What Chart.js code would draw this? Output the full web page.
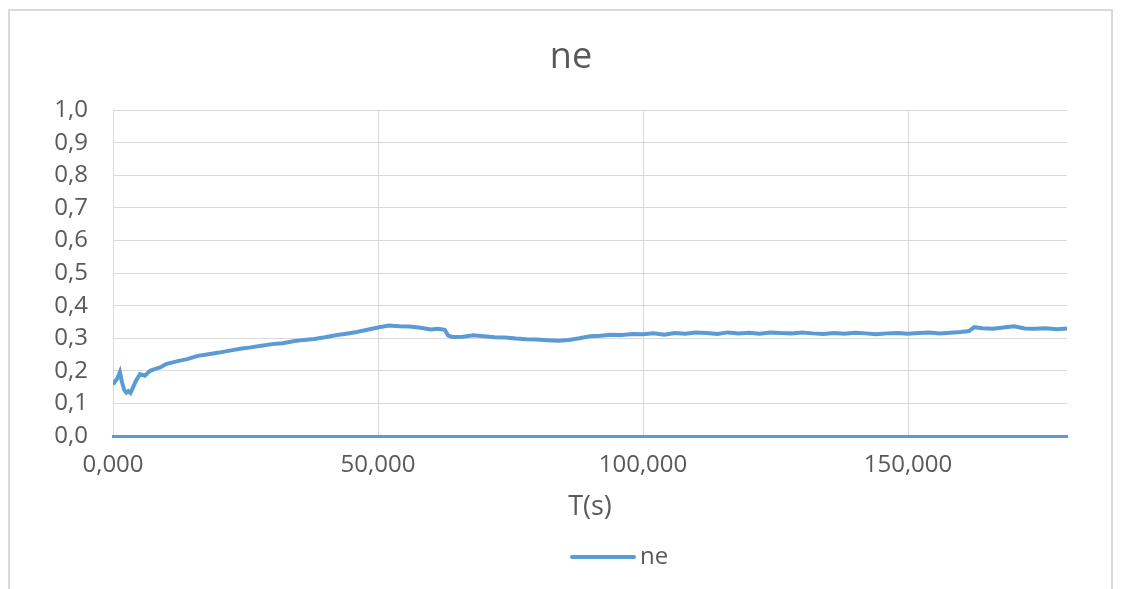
<!DOCTYPE html>
<html>
<head>
<meta charset="utf-8">
<title>ne</title>
<script src="https://cdn.jsdelivr.net/npm/chart.js@4.4.1/dist/chart.umd.min.js"></script>
<style>
  html, body { margin: 0; padding: 0; background: #fff; overflow: hidden; }
  #frame {
    position: absolute; left: 8px; top: 9px;
    width: 1101px; height: 620px;
    border: 2px solid #d9d9d9;
  }
  #wrap { position: absolute; left: 0; top: 0; width: 1123px; height: 589px; }
</style>
</head>
<body>
<div id="frame"></div>
<div id="wrap"><canvas id="neChart"></canvas></div>
<script>
// time axis (s) and measured ne
const tSec = [
  0, 0.4, 0.8, 1.3, 1.7, 2.1, 2.5, 2.9, 3.3, 3.8, 4.3, 5.1, 6, 7, 8, 9,
  10, 12, 14, 16, 18, 20, 22, 24, 26, 28, 30, 32, 34, 36, 38, 40,
  42, 44, 46, 48, 50, 52, 54, 56, 58, 60, 61.3, 62.6, 63.2, 64, 66, 68,
  70, 72, 74, 76, 78, 80, 82, 84, 86, 88, 90, 92, 94, 96, 98, 100,
  102, 104, 106, 108, 110, 112, 114, 116, 118, 120, 122, 124, 126, 128, 130, 132,
  134, 136, 138, 140, 142, 144, 146, 148, 150, 152, 154, 156, 158, 160, 161.5, 162.5,
  164, 166, 168, 170, 172, 174, 176, 178, 180
];
const ne = [
  0.158, 0.168, 0.176, 0.196, 0.165, 0.142, 0.133, 0.138, 0.132, 0.150, 0.168, 0.190, 0.185, 0.200, 0.206, 0.211,
  0.221, 0.229, 0.236, 0.246, 0.251, 0.256, 0.262, 0.268, 0.272, 0.277, 0.282, 0.285, 0.291, 0.295, 0.298, 0.303,
  0.309, 0.314, 0.319, 0.326, 0.333, 0.339, 0.337, 0.336, 0.332, 0.327, 0.329, 0.326, 0.309, 0.304, 0.305, 0.309,
  0.306, 0.303, 0.302, 0.299, 0.297, 0.296, 0.294, 0.292, 0.295, 0.300, 0.306, 0.308, 0.311, 0.310, 0.313, 0.312,
  0.315, 0.311, 0.316, 0.314, 0.318, 0.316, 0.313, 0.318, 0.315, 0.317, 0.314, 0.318, 0.316, 0.315, 0.318, 0.315,
  0.313, 0.316, 0.314, 0.317, 0.315, 0.312, 0.315, 0.316, 0.314, 0.316, 0.318, 0.315, 0.317, 0.319, 0.322, 0.334,
  0.331, 0.329, 0.333, 0.337, 0.330, 0.329, 0.331, 0.328, 0.330
];

const BLUE = "#5B9BD5";
const TEXT = "#595959";
const GRID = "#d9d9d9";

Chart.defaults.font.family = "'Open Sans', sans-serif";
Chart.defaults.color = TEXT;

const commaDec = (v, d) => Number(v).toFixed(d).replace(".", ",");

// line sample + label under the axis title
const bottomLegend = {
  id: "bottomLegend",
  afterDraw(chart) {
    const { ctx } = chart;
    const ds = chart.data.datasets[0];
    const x = 572, y = 557;
    ctx.save();
    ctx.strokeStyle = ds.borderColor;
    ctx.lineWidth = ds.borderWidth;
    ctx.lineCap = "round";
    ctx.beginPath();
    ctx.moveTo(x, y);
    ctx.lineTo(x + 62, y);
    ctx.stroke();
    ctx.fillStyle = TEXT;
    ctx.font = "24px 'Open Sans', sans-serif";
    ctx.textBaseline = "middle";
    ctx.fillText(ds.label, x + 68, y);
    ctx.restore();
  }
};

new Chart(document.getElementById("neChart"), {
  type: "line",
  data: {
    datasets: [{
      label: "ne",
      data: tSec.map((t, i) => ({ x: t, y: ne[i] })),
      borderColor: BLUE,
      backgroundColor: BLUE,
      borderWidth: 4,
      pointRadius: 0,
      tension: 0
    }]
  },
  options: {
    responsive: true,
    maintainAspectRatio: false,
    animation: false,
    layout: { padding: { left: 40, right: 21, top: 0, bottom: 65 } },
    plugins: {
      legend: { display: false },
      tooltip: { enabled: false },
      title: {
        display: true,
        text: "ne",
        color: TEXT,
        font: { size: 36, weight: "normal" },
        padding: { top: 36, bottom: 31 }
      }
    },
    scales: {
      x: {
        type: "linear",
        min: 0,
        max: 180,
        afterFit: (s) => { s.height = 88; },
        ticks: {
          stepSize: 50,
          includeBounds: false,
          padding: 15,
          maxRotation: 0,
          font: { size: 24 },
          callback: (v) => commaDec(v, 3)
        },
        grid: { color: GRID, lineWidth: 1, drawTicks: false },
        border: { color: BLUE, width: 3 },
        title: {
          display: true,
          text: "T(s)",
          color: TEXT,
          font: { size: 27 },
          padding: 0
        }
      },
      y: {
        min: 0,
        max: 1,
        afterFit: (s) => { s.width = 73; },
        ticks: {
          stepSize: 0.1,
          padding: 25,
          font: { size: 24 },
          callback: (v) => commaDec(v, 1)
        },
        grid: { color: GRID, lineWidth: 1, drawTicks: false },
        border: { display: false }
      },
      // empty right-hand margin so the plot stops short of the frame
      yRight: {
        position: "right",
        afterFit: (s) => { s.width = 35; },
        ticks: { display: false },
        grid: { display: false, drawTicks: false },
        border: { display: false }
      }
    }
  },
  plugins: [bottomLegend]
});
</script>
</body>
</html>
